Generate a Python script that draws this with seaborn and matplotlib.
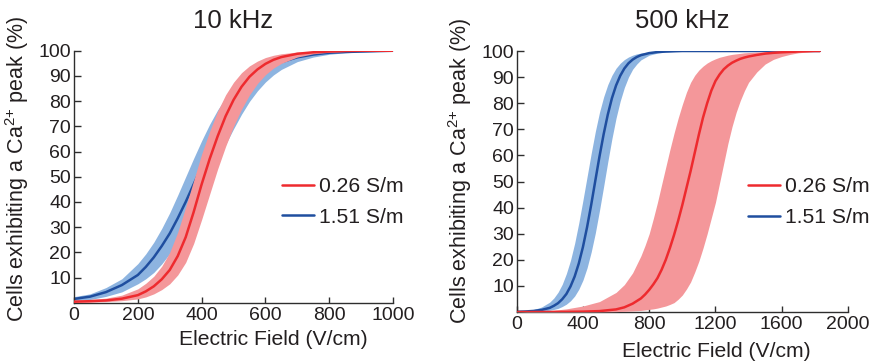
import matplotlib
matplotlib.use("Agg")
import matplotlib.pyplot as plt
import seaborn as sns
import pandas as pd

# ---------------- data ----------------
titles = ["10 kHz", "500 kHz"]
series_labels = ["0.26 S/m", "1.51 S/m"]

# ---- 10 kHz panel (shared field grid, V/cm) ----
x_10k = [0, 50, 100, 150, 200, 225, 250, 275, 300, 325, 350, 375, 400, 425, 450,
         475, 500, 525, 550, 575, 600, 625, 650, 700, 750, 800, 850, 900, 950, 1000]
red_10k_mean = [0.4, 0.6, 0.9, 1.6, 3.0, 4.5, 6.5, 9.3, 13, 18.5, 26, 36, 47, 57, 66,
                74, 80.5, 85.7, 89.7, 92.6, 94.8, 96.4, 97.5, 98.8, 99.4, 99.7, 99.9, 100, 100, 100]
red_10k_up = [1.0, 1.3, 1.8, 3.0, 5.5, 7.7, 10.5, 14.5, 20, 28, 38, 48.5, 59, 68, 76,
              82.5, 87.5, 91.3, 94, 95.9, 97.3, 98.2, 98.8, 99.5, 99.8, 100, 100, 100, 100, 100]
red_10k_lo = [0.1, 0.2, 0.4, 0.8, 1.5, 2.3, 3.5, 5.2, 7.5, 11, 16, 23.5, 33, 43, 53,
              62, 70, 76.8, 82.5, 87, 90.5, 93.1, 95, 97.5, 98.8, 99.4, 99.7, 99.9, 100, 100]
blue_10k_mean = [1.5, 2.4, 4.2, 7.0, 11, 14.2, 18, 22.5, 27.5, 33.5, 40, 47, 54, 61.2, 68,
                 74, 79, 83.3, 87, 89.9, 92.2, 94, 95.5, 97.4, 98.5, 99.2, 99.5, 99.7, 99.85, 100]
blue_10k_up = [2.4, 3.5, 6.0, 9.5, 15.5, 19.4, 24, 29.5, 35.7, 42.7, 50, 57.3, 64.3, 70.8, 76.5,
               81.3, 85.3, 88.6, 91.3, 93.4, 95, 96.2, 97.2, 98.4, 99.1, 99.5, 99.7, 99.85, 99.95, 100]
blue_10k_lo = [0.6, 1.25, 2.5, 4.3, 7.5, 9.5, 12, 15.4, 19.5, 24.2, 29.5, 35.5, 42, 49, 56,
               62.8, 69, 74.8, 79.9, 84.1, 87.6, 90.4, 92.6, 95.7, 97.5, 98.6, 99.2, 99.5, 99.7, 99.8]

# ---- 500 kHz panel ----
# 1.51 S/m series grid
x_500k_blue = [0, 50, 100, 150, 200, 225, 250, 275, 300, 325, 350, 375, 400, 425, 450,
               475, 500, 525, 550, 575, 600, 625, 650, 675, 700, 725, 750,
               800, 850, 900, 950, 1000, 1200, 1400, 1600, 1830]
blue_500k_mean = [0.1, 0.2, 0.4, 0.8, 1.6, 2.4, 3.4, 4.9, 6.9, 9.8, 13.6, 18.6, 24.9, 32.5, 41.1,
                  50.4, 59.6, 68.1, 75.6, 81.9, 86.8, 90.5, 93.3, 95.3, 96.7, 97.7, 98.4,
                  99.2, 99.6, 99.8, 99.9, 100, 100, 100, 100, 100]
blue_500k_up = [0.2, 0.4, 0.9, 1.9, 3.8, 5.4, 7.6, 10.6, 14.7, 19.8, 26.3, 34.1, 42.8, 51.8, 60.8,
                69.2, 76.5, 82.4, 87.1, 90.7, 93.4, 95.3, 96.7, 97.7, 98.4, 98.9, 99.2,
                99.6, 99.8, 99.9, 100, 100, 100, 100, 100, 100]
blue_500k_lo = [0.03, 0.07, 0.15, 0.3, 0.7, 1.0, 1.4, 2.1, 3.0, 4.3, 6.1, 8.7, 12.2, 16.9, 23,
                30.3, 38.9, 48.1, 57.5, 66.4, 74.3, 80.8, 86, 90, 93, 95, 96.6,
                98.4, 99.2, 99.6, 99.8, 99.9, 100, 100, 100, 100]

# 0.26 S/m series grid
x_500k_red = [0, 100, 200, 300, 400, 500, 600, 650, 700,
              750, 775, 800, 825, 850, 875, 900, 925, 950, 975, 1000, 1025, 1050, 1075,
              1100, 1125, 1150, 1175, 1200, 1225, 1250, 1275, 1300, 1325, 1350, 1375, 1400,
              1450, 1500, 1550, 1600, 1650, 1700, 1750, 1800, 1830]
red_500k_mean = [0, 0, 0.02, 0.06, 0.15, 0.35, 1.0, 1.8, 3.2,
                 5.2, 6.7, 8.5, 10.6, 13, 16.2, 20, 24.5, 29.5, 35, 41, 47.5, 54, 61,
                 68, 74.5, 80, 84.8, 88.5, 91, 93, 94.4, 95.5, 96.3, 97, 97.5, 97.9,
                 98.5, 99, 99.3, 99.5, 99.65, 99.8, 99.9, 100, 100]
red_500k_up = [0.1, 0.25, 0.5, 1.2, 2.3, 4.0, 7.5, 10.5, 15,
               21.5, 25.5, 30, 35.8, 42, 48.8, 55.5, 62.2, 68.5, 74.3, 79.5, 84.2, 88, 90.7,
               92.7, 94.2, 95.4, 96.3, 97, 97.6, 98, 98.4, 98.7, 98.9, 99.1, 99.3, 99.4,
               99.6, 99.8, 99.9, 100, 100, 100, 100, 100, 100]
red_500k_lo = [0, 0, 0, 0.01, 0.02, 0.06, 0.15, 0.25, 0.4,
               0.6, 0.8, 1.0, 1.2, 1.5, 1.9, 2.3, 2.9, 3.6, 4.9, 6.5, 8.8, 11.5, 15.3,
               19.5, 24.5, 30, 36, 42, 49.5, 57, 64.5, 71, 76.5, 81, 84.8, 88,
               92, 95, 96.8, 97.9, 98.7, 99.3, 99.6, 99.9, 100]

xticks_10k = [0, 200, 400, 600, 800, 1000]
xticks_500k = [0, 400, 800, 1200, 1600, 2000]
yticks = [10, 20, 30, 40, 50, 60, 70, 80, 90, 100]

# ---------------- style ----------------
sns.set_style("ticks")
plt.rcParams["font.family"] = ["Liberation Sans", "DejaVu Sans"]
plt.rcParams["mathtext.default"] = "regular"
TXT = "#231f20"
SPINE = "#2e2e2e"
RED_LINE, RED_BAND = "#ee2a2e", "#f4979a"
BLUE_LINE, BLUE_BAND = "#1f4e9f", "#8db4e0"

fig = plt.figure(figsize=(8.76, 3.62), dpi=100)
ax1 = fig.add_axes([0.0845, 0.1638, 0.3642, 0.696])
ax2 = fig.add_axes([0.5898, 0.1381, 0.3782, 0.721])

panels = [
    dict(ax=ax1, xb=x_10k, bm=blue_10k_mean, bl=blue_10k_lo, bu=blue_10k_up,
         xr=x_10k, rm=red_10k_mean, rl=red_10k_lo, ru=red_10k_up,
         xt=xticks_10k, xmax=1000, xlc=(0.626, -0.108), ylc=(-0.135, 0.532),
         leg=(0.651, 0.40)),
    dict(ax=ax2, xb=x_500k_blue, bm=blue_500k_mean, bl=blue_500k_lo, bu=blue_500k_up,
         xr=x_500k_red, rm=red_500k_mean, rl=red_500k_lo, ru=red_500k_up,
         xt=xticks_500k, xmax=2000, xlc=(0.604, -0.115), ylc=(-0.130, 0.543),
         leg=(0.697, 0.421)),
]

for i, p in enumerate(panels):
    ax = p["ax"]
    df_red = pd.DataFrame({"E": p["xr"], "pct": p["rm"]})
    df_blue = pd.DataFrame({"E": p["xb"], "pct": p["bm"]})

    ax.fill_between(p["xb"], p["bl"], p["bu"], color=BLUE_BAND, linewidth=0, zorder=1)
    sns.lineplot(data=df_blue, x="E", y="pct", color=BLUE_LINE, lw=1.8,
                 ax=ax, zorder=2, label=series_labels[1],
                 solid_joinstyle="round", solid_capstyle="round")
    ax.fill_between(p["xr"], p["rl"], p["ru"], color=RED_BAND, linewidth=0, zorder=3)
    sns.lineplot(data=df_red, x="E", y="pct", color=RED_LINE, lw=1.8,
                 ax=ax, zorder=4, label=series_labels[0],
                 solid_joinstyle="round", solid_capstyle="round")

    ax.set_xlim(0, p["xmax"])
    ax.set_ylim(0, 100)
    ax.set_xticks(p["xt"])
    ax.set_yticks(yticks)
    ax.set_title(titles[i], fontsize=18.5, color=TXT, pad=16.5)
    ax.set_xlabel("Electric Field (V/cm)", fontsize=15.2, color=TXT)
    ax.set_ylabel("Cells exhibiting a Ca$^{2{+}}$ peak (%)", fontsize=15.5, color=TXT)
    ax.xaxis.set_label_coords(*p["xlc"])
    ax.yaxis.set_label_coords(*p["ylc"])
    ax.tick_params(axis="both", direction="in", labelsize=14, colors=SPINE,
                   labelcolor=TXT, width=1, length=4)
    ax.tick_params(axis="x", pad=3)
    ax.tick_params(axis="y", pad=2, length=5)
    for s in ["top", "right"]:
        ax.spines[s].set_visible(False)
    for s in ["left", "bottom"]:
        ax.spines[s].set_color(SPINE)
        ax.spines[s].set_linewidth(1.0)

    handles, labels = ax.get_legend_handles_labels()
    order = [labels.index(series_labels[0]), labels.index(series_labels[1])]
    ax.legend([handles[k] for k in order], [labels[k] for k in order],
              loc="center left", bbox_to_anchor=p["leg"], frameon=False,
              fontsize=15.2, handlelength=1.55, handletextpad=0.2,
              labelspacing=0.55, borderpad=0, borderaxespad=0,
              labelcolor=TXT)

fig.savefig("out.png", dpi=100)
